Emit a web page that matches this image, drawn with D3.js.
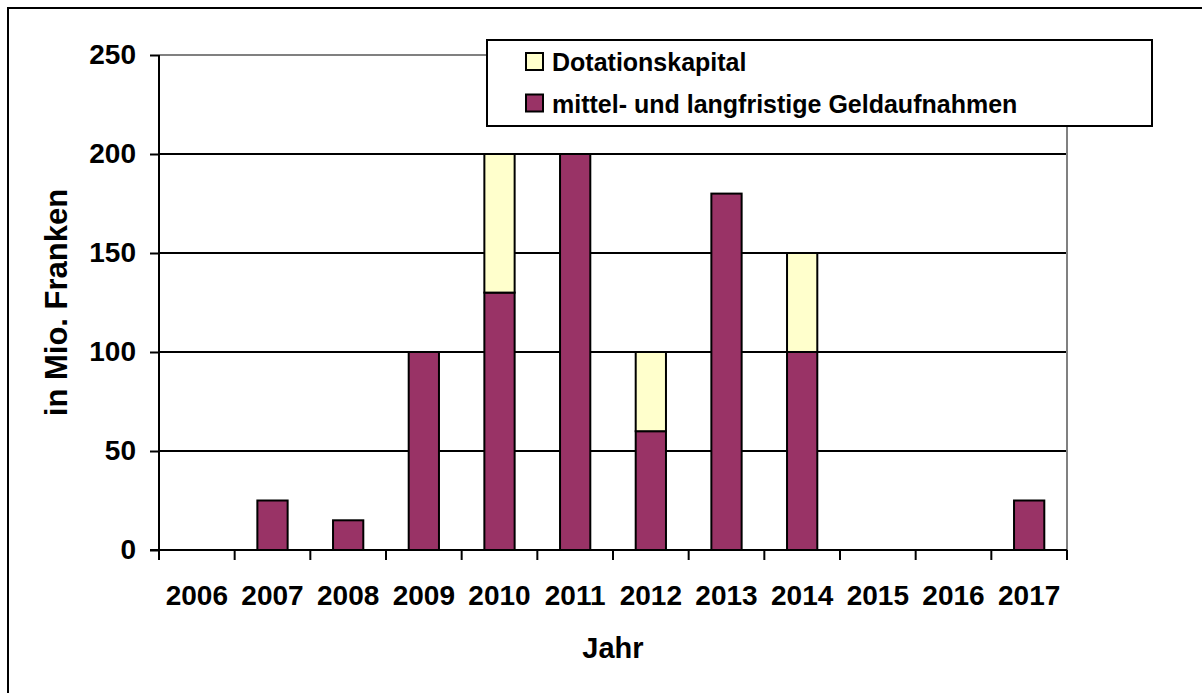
<!DOCTYPE html>
<html>
<head>
<meta charset="utf-8">
<script src="https://cdn.jsdelivr.net/npm/d3@7"></script>
<style>
  body { margin: 0; background: #fff; }
  svg { display: block; font-family: "Liberation Sans", Arial, sans-serif; font-weight: bold; }
</style>
</head>
<body>
<svg width="1202" height="693"></svg>
<script>
// data
var years = ["2006", "2007", "2008", "2009", "2010", "2011", "2012", "2013", "2014", "2015", "2016", "2017"];
var geldaufnahmen = [0, 25, 15, 100, 130, 200, 60, 180, 100, 0, 0, 25];
var dotation = [0, 0, 0, 0, 70, 0, 40, 0, 50, 0, 0, 0];
var yTicks = [0, 50, 100, 150, 200, 250];
var seriesNames = ["mittel- und langfristige Geldaufnahmen", "Dotationskapital"];
var colors = ["#993366", "#FFFFCC"];

var svg = d3.select("svg"),
    margin = {top: 55, left: 159, right: 135, bottom: 143},
    width = 1202 - margin.left - margin.right,   // 908
    height = 693 - margin.top - margin.bottom;   // 495

// outer chart border (runs off the right/bottom edge like the original)
svg.append("rect")
    .attr("x", 8).attr("y", 8)
    .attr("width", 1210).attr("height", 700)
    .attr("fill", "#fff")
    .attr("stroke", "#000")
    .attr("stroke-width", 2);

var g = svg.append("g").attr("transform", "translate(" + margin.left + "," + margin.top + ")");

var x = d3.scaleBand().domain(years).range([0, width]).paddingInner(0.6).paddingOuter(0.3),
    xTick = d3.scaleBand().domain(years).range([0, width]),
    y = d3.scaleLinear().domain([0, 250]).range([height, 0]);

var table = years.map(function(yr, i) {
  return {year: yr, geld: geldaufnahmen[i], dot: dotation[i]};
});
var stacked = d3.stack().keys(["geld", "dot"])(table);

// gridlines
g.selectAll(".grid")
  .data(yTicks.filter(function(d) { return d > 0 && d < 250; }))
  .enter().append("line")
    .attr("x1", 0).attr("x2", width)
    .attr("y1", function(d) { return y(d); })
    .attr("y2", function(d) { return y(d); })
    .attr("stroke", "#000")
    .attr("stroke-width", 2);

// plot area border (grey, top and right)
g.append("path")
    .attr("d", "M0," + y(250) + "H" + width + "V" + y(0))
    .attr("fill", "none")
    .attr("stroke", "#808080")
    .attr("stroke-width", 2);

// bars
var layer = g.selectAll(".layer")
  .data(stacked)
  .enter().append("g")
    .attr("fill", function(d, i) { return colors[i]; });

layer.selectAll("rect")
  .data(function(d) { return d.filter(function(p) { return p[1] - p[0] > 0; }); })
  .enter().append("rect")
    .attr("x", function(d) { return x(d.data.year); })
    .attr("width", x.bandwidth())
    .attr("y", function(d) { return y(d[1]); })
    .attr("height", function(d) { return y(d[0]) - y(d[1]); })
    .attr("stroke", "#000")
    .attr("stroke-width", 2);

// y axis
var yAxis = g.append("g")
    .call(d3.axisLeft(y).tickValues(yTicks).tickSize(9).tickPadding(14));
yAxis.select(".domain").attr("stroke", "#000").attr("stroke-width", 2).attr("d", "M0," + y(0) + "V" + y(250));
yAxis.selectAll(".tick line").attr("stroke", "#000").attr("stroke-width", 2);
yAxis.selectAll(".tick text")
    .attr("fill", "#000")
    .style("font-size", "28px")
    .style("font-family", "'Liberation Sans', Arial, sans-serif")
    .style("font-weight", "bold");

// x axis: ticks at category boundaries
var xAxis = g.append("g").attr("transform", "translate(0," + height + ")");
xAxis.append("line")
    .attr("x1", -9).attr("x2", width)
    .attr("stroke", "#000").attr("stroke-width", 2);
xAxis.selectAll(".xt")
  .data(years.concat(["end"]))
  .enter().append("line")
    .attr("x1", function(d, i) { return i * xTick.step(); })
    .attr("x2", function(d, i) { return i * xTick.step(); })
    .attr("y1", 0).attr("y2", 10)
    .attr("stroke", "#000").attr("stroke-width", 2);
xAxis.selectAll(".xl")
  .data(years)
  .enter().append("text")
    .attr("x", function(d) { return xTick(d) + xTick.bandwidth() / 2; })
    .attr("y", 55)
    .attr("text-anchor", "middle")
    .style("font-size", "28px")
    .text(function(d) { return d; });

// axis titles
svg.append("text")
    .attr("x", margin.left + width / 2)
    .attr("y", 658)
    .attr("text-anchor", "middle")
    .style("font-size", "29px")
    .text("Jahr");

svg.append("text")
    .attr("transform", "translate(67," + (margin.top + height / 2) + ") rotate(-90)")
    .attr("text-anchor", "middle")
    .style("font-size", "31px")
    .text("in Mio. Franken");

// legend
var legend = svg.append("g").attr("transform", "translate(487,40)");
legend.append("rect")
    .attr("width", 665).attr("height", 86)
    .attr("fill", "#fff")
    .attr("stroke", "#000").attr("stroke-width", 2);

var legendItems = [
  {name: seriesNames[1], color: colors[1]},
  {name: seriesNames[0], color: colors[0]}
];
var li = legend.selectAll(".li")
  .data(legendItems)
  .enter().append("g")
    .attr("transform", function(d, i) { return "translate(0," + (i * 41.5) + ")"; });
li.append("rect")
    .attr("x", 39).attr("y", 13)
    .attr("width", 17).attr("height", 17)
    .attr("fill", function(d) { return d.color; })
    .attr("stroke", "#000").attr("stroke-width", 2);
li.append("text")
    .attr("x", 65).attr("y", 31)
    .style("font-size", "25px")
    .text(function(d) { return d.name; });
</script>
</body>
</html>
